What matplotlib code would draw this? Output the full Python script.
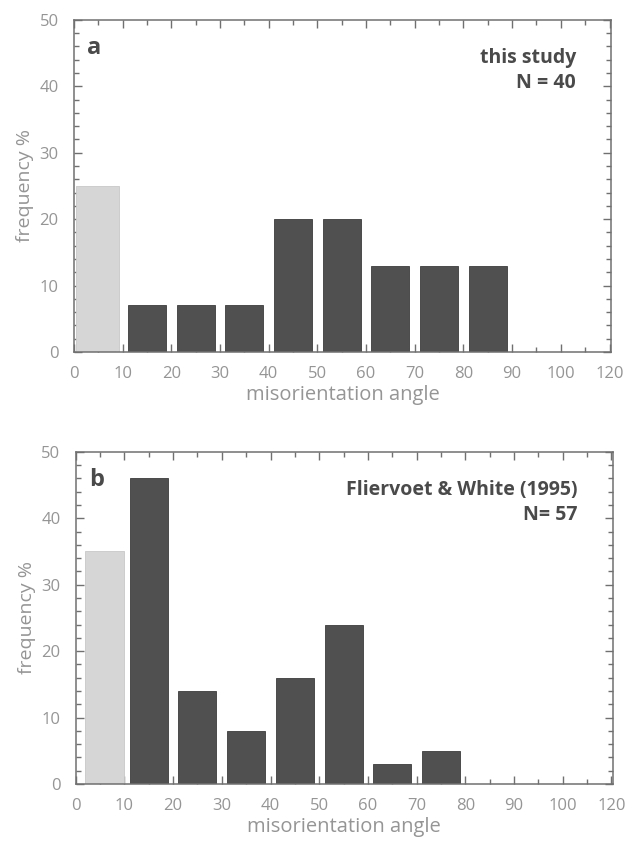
import numpy as np
import matplotlib.pyplot as plt
from matplotlib.ticker import MultipleLocator

plt.rcParams['font.family'] = ['Open Sans', 'DejaVu Sans']

# misorientation angle bins (lower edge, degrees)
bins_a = [0, 10, 20, 30, 40, 50, 60, 70, 80]
freq_a = [25, 7, 7, 7, 20, 20, 13, 13, 13]

bins_b = [0, 10, 20, 30, 40, 50, 60, 70]
freq_b = [35, 46, 14, 8, 16, 24, 3, 5]

xtick_vals = [0, 10, 20, 30, 40, 50, 60, 70, 80, 90, 100, 110]
xtick_labels = ['0', '10', '20', '30', '40', '50', '60', '70', '80', '90', '100', '120']

light = '#d6d6d6'
dark = '#505050'
axis_col = '#707070'
label_col = '#959595'
text_col = '#4a4a4a'

fig = plt.figure(figsize=(6.26, 8.43), dpi=100)
ax_a = fig.add_axes([0.118, 0.5825, 0.858, 0.394])
ax_b = fig.add_axes([0.121, 0.070, 0.858, 0.394])


def draw_panel(ax, bins, freq, first_shift, first_width, letter, title, ntext):
    bins = np.array(bins, dtype=float)
    freq = np.array(freq, dtype=float)
    # first bin (low-angle) drawn in light grey, the rest dark
    ax.bar(bins[0] + first_shift, freq[0], width=first_width, color=light,
           edgecolor='#c8c8c8', linewidth=0.6, zorder=2)
    ax.bar(bins[1:] + 5.0, freq[1:], width=7.8, color=dark,
           edgecolor='#3c3c3c', linewidth=0.6, zorder=2)

    ax.set_xlim(0, 110.3)
    ax.set_ylim(0, 50)
    ax.set_xticks(xtick_vals)
    ax.set_xticklabels(xtick_labels)
    ax.xaxis.set_minor_locator(MultipleLocator(5))
    ax.yaxis.set_major_locator(MultipleLocator(10))
    ax.yaxis.set_minor_locator(MultipleLocator(2))
    ax.tick_params(which='both', direction='in', top=True, right=True,
                   color=axis_col, width=1.0, labelsize=12, labelcolor=label_col)
    ax.tick_params(axis='y', which='major', pad=11)
    ax.tick_params(axis='x', which='major', pad=10)
    ax.tick_params(which='major', length=6)
    ax.tick_params(which='minor', length=3.5)
    for s in ax.spines.values():
        s.set_color(axis_col)
        s.set_linewidth(1.1)

    ax.set_xlabel('misorientation angle', fontsize=14.5, color=label_col, labelpad=2)
    ax.set_ylabel('frequency %', fontsize=14, color=label_col, labelpad=4)

    ax.text(0.025, 0.95, letter, transform=ax.transAxes, fontsize=17,
            fontweight='bold', color=text_col, ha='left', va='top')
    ax.text(0.935, 0.884, title, transform=ax.transAxes, fontsize=14,
            fontweight='bold', color=text_col, ha='right', va='center')
    ax.text(0.935, 0.809, ntext, transform=ax.transAxes, fontsize=14,
            fontweight='bold', color=text_col, ha='right', va='center')


draw_panel(ax_a, bins_a, freq_a, 4.8, 8.8, 'a', 'this study', 'N = 40')
draw_panel(ax_b, bins_b, freq_b, 5.9, 8.1, 'b', 'Fliervoet & White (1995)', 'N= 57')

fig.savefig('out.png', dpi=100)
